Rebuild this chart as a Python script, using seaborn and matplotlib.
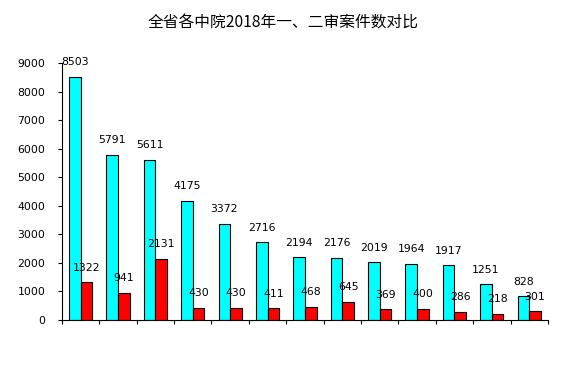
import seaborn as sns
import pandas as pd
import numpy as np
import matplotlib
matplotlib.use('Agg')
import matplotlib.pyplot as plt

# datos
courts = ['C%d' % i for i in range(1, 14)]
first_inst = [8503, 5791, 5611, 4175, 3372, 2716, 2194, 2176, 2019, 1964, 1917, 1251, 828]
second_inst = [1322, 941, 2131, 430, 430, 411, 468, 645, 369, 400, 286, 218, 301]
series_names = ['一审', '二审']

df = pd.DataFrame({
    'court': courts * 2,
    'n': first_inst + second_inst,
    'tipo': [series_names[0]] * 13 + [series_names[1]] * 13,
})

sns.set_style('white')
plt.rcParams['font.family'] = ['Noto Sans CJK SC', 'DejaVu Sans']
plt.rcParams['text.color'] = 'black'

fig = plt.figure(figsize=(5.66, 3.84), dpi=100)
ax = fig.add_axes([0.1095, 0.1667, 0.8585, 0.6693])
sns.barplot(data=df, x='court', y='n', hue='tipo', palette=['#00FFFF', '#FF0000'],
            saturation=1, width=0.62, edgecolor='black', linewidth=0.8,
            legend=False, ax=ax)

for cont in ax.containers:
    ax.bar_label(cont, fontsize=7.8, padding=7, family='DejaVu Sans', color='black')

ax.set_ylim(0, 9000)
ax.set_xlim(-0.5, 12.5)
ax.set_yticks(np.arange(0, 9001, 1000))
ax.set_yticklabels([str(v) for v in range(0, 9001, 1000)], fontsize=7.8, family='DejaVu Sans')
ax.set_xticks(np.arange(-0.5, 13, 1))
ax.set_xticklabels([])
ax.tick_params(axis='both', direction='out', length=3, width=0.8, color='black',
               labelcolor='black', left=True, bottom=True)
ax.tick_params(axis='y', pad=9)
ax.set_xlabel('')
ax.set_ylabel('')
for s in ['top', 'right']:
    ax.spines[s].set_visible(False)
for s in ['left', 'bottom']:
    ax.spines[s].set_color('black')
    ax.spines[s].set_linewidth(0.8)

fig.text(0.5, 0.94, '全省各中院2018年一、二审案件数对比', ha='center', va='center',
         fontsize=11.3, color='black')
fig.savefig('out.png', dpi=100)
